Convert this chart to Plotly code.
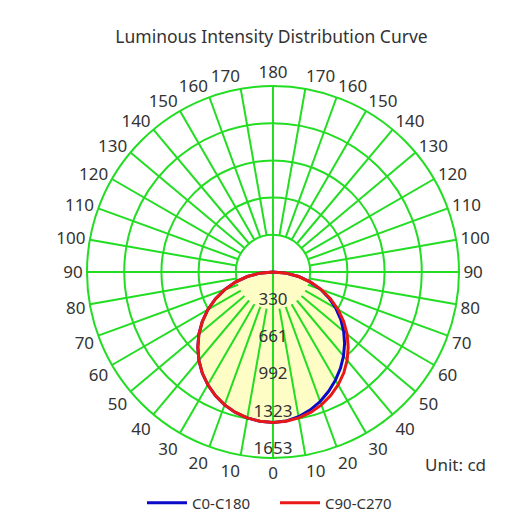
import plotly.graph_objects as go

# ---- data ----
gamma = [0, 5, 10, 15, 20, 25, 30, 35, 40, 45, 50, 55, 60, 65, 70, 75, 80, 85, 90]
c0 = [1337, 1330, 1306, 1270, 1225, 1170, 1110, 1045, 975, 900, 820, 735, 645, 550, 450, 340, 230, 115, 0]
c180 = [1337, 1332, 1317, 1292, 1257, 1212, 1158, 1096, 1025, 945, 860, 767, 669, 565, 457, 346, 232, 117, 0]
c90 = [1337, 1332, 1317, 1292, 1257, 1212, 1158, 1096, 1025, 945, 860, 767, 669, 565, 457, 346, 232, 117, 0]
c270 = [1337, 1332, 1317, 1292, 1257, 1212, 1158, 1096, 1025, 945, 860, 767, 669, 565, 457, 346, 232, 117, 0]
ring_values = [330.6, 661.2, 991.8, 1322.4, 1653.0]
ring_labels = ["330", "661", "992", "1323", "1653"]
angle_ticks = list(range(0, 360, 10))
angle_labels = [str(a if a <= 180 else 360 - a) for a in angle_ticks]

GREEN = "#22DD22"
TXT = "#333333"
FONT = "Noto Sans"
rmax = ring_values[-1]

W, H = 530, 514
OFF = 8  # page body margin


def px(X):
    return (X - OFF) / W


def py(Y):
    return 1 - (Y - OFF) / H


CX, CY, R = 273, 272, 186

fig = go.Figure()

theta_red = [-g for g in reversed(gamma)] + gamma
r_red = list(reversed(c270)) + c90
fig.add_trace(go.Scatterpolar(theta=theta_red, r=r_red, mode="lines", fill="toself",
                              fillcolor="#FEFDC6", line=dict(width=0), showlegend=False,
                              hoverinfo="skip"))

sp_t, sp_r = [], []
for a in angle_ticks:
    r0 = 0 if a % 90 == 0 else ring_values[0]
    sp_t += [a, a, None]
    sp_r += [r0, rmax, None]
fig.add_trace(go.Scatterpolar(theta=sp_t, r=sp_r, mode="lines",
                              line=dict(color=GREEN, width=2), showlegend=False,
                              hoverinfo="skip", connectgaps=False))

theta_blue = [-g for g in reversed(gamma)] + gamma
r_blue = list(reversed(c180)) + c0
fig.add_trace(go.Scatterpolar(theta=theta_blue, r=r_blue, mode="lines", name="C0-C180",
                              line=dict(color="#0A0AC8", width=3)))
fig.add_trace(go.Scatterpolar(theta=theta_red, r=r_red, mode="lines", name="C90-C270",
                              line=dict(color="#E81818", width=3)))

fig.add_trace(go.Scatterpolar(theta=[0] * len(ring_values), r=ring_values, mode="text",
                              text=ring_labels, textposition="top center",
                              textfont=dict(size=17, color=TXT, family=FONT),
                              showlegend=False, hoverinfo="skip"))

fig.update_layout(
    width=W, height=H,
    margin=dict(l=0, r=0, t=0, b=0),
    paper_bgcolor="white",
    font=dict(family=FONT, size=16, color=TXT),
    title=dict(text="Luminous Intensity Distribution Curve", x=px(271.5), xanchor="center",
               y=py(37), yanchor="middle", font=dict(size=17.5, color=TXT, family=FONT)),
    polar=dict(
        domain=dict(x=[px(CX - R), px(CX + R)], y=[py(CY + R), py(CY - R)]),
        bgcolor="white",
        radialaxis=dict(range=[0, rmax], tickvals=ring_values, showticklabels=False,
                        showgrid=True, gridcolor=GREEN, gridwidth=2, showline=False,
                        ticks=""),
        angularaxis=dict(rotation=270, direction="counterclockwise",
                         tickmode="array", tickvals=angle_ticks, ticktext=angle_labels,
                         showgrid=False, showline=True, linecolor=GREEN, linewidth=2,
                         ticks="", tickfont=dict(size=17, color=TXT, family=FONT)),
    ),
    legend=dict(orientation="h", x=px(275), xanchor="center", y=py(503), yanchor="middle",
                itemwidth=40, entrywidth=78, entrywidthmode="pixels",
                font=dict(size=15, color=TXT, family=FONT)),
    annotations=[dict(text="Unit: cd", x=px(455), y=py(464), xref="paper", yref="paper",
                      xanchor="center", yanchor="middle", showarrow=False,
                      font=dict(size=17, color=TXT, family=FONT))],
)

fig.write_html("out.html")
